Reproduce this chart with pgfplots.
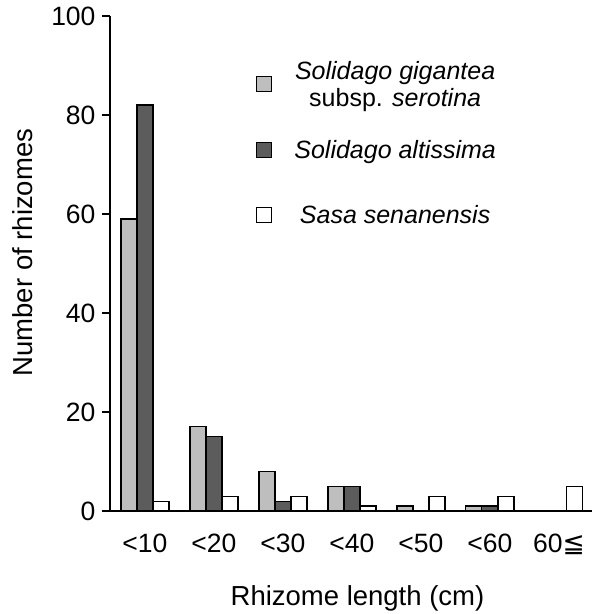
\documentclass[border=0pt]{standalone}
\usepackage{fontspec}
\setmainfont{Liberation Sans}
\newfontfamily\dejavu{DejaVu Sans}
\usepackage{pgfplots}
\pgfplotsset{compat=1.18}
\definecolor{lightbar}{RGB}{190,190,190}
\definecolor{darkbar}{RGB}{92,92,92}
\pgfplotsset{
  mybar/.style={ybar, bar width=0.232, draw=black, line width=1.2pt,
    legend image code/.code={\draw[##1, line width=1.2pt] (0pt,-7.5pt) rectangle (15pt,7.5pt);}},
}
\begin{document}
\begin{tikzpicture}
\begin{axis}[
  scale only axis, width=482pt, height=495pt,
  xmin=-0.507, xmax=6.48, ymin=0, ymax=100,
  axis x line=bottom, axis y line=left,
  axis line style={-, line width=1.4pt},
  ytick={0,20,40,60,80,100},
  tick align=outside,
  major tick length=8pt,
  ytick style={line width=1.2pt, black},
  xtick={0,1,2,3,4,5,6},
  xtick style={draw=none},
  xticklabels={{<10},{<20},{<30},{<40},{<50},{<60},{60{\dejavu ≦}}},
  /pgf/number format/assume math mode=true,
  tick label style={font=\fontsize{26.5}{30}\selectfont},
  yticklabel style={xshift=-3pt},
  xticklabel style={anchor=base, yshift=-33pt},
  xlabel={Rhizome length (cm)},
  xlabel style={at={(axis description cs:0.5135,-0.1899)}, anchor=base, font=\fontsize{27.5}{30}\selectfont},
  ylabel={Number of rhizomes},
  ylabel style={at={(axis description cs:-0.1618,0.522)}, anchor=base, font=\fontsize{27.5}{30}\selectfont},
  legend style={draw=none, fill=none, at={(axis description cs:0.3029,0.9288)}, anchor=north west,
    inner sep=0pt, row sep=0pt, column sep=22pt, font=\fontsize{25}{27}\selectfont,
    nodes={inner sep=0pt, minimum height=65.5pt, anchor=center, align=center}},
]
\addplot[mybar, bar shift=-0.232, fill=lightbar] coordinates {(0,59) (1,17) (2,8) (3,5) (4,1) (5,1)};
\addlegendentry{\textit{Solidago gigantea}\\subsp. \textit{serotina}}
\addplot[mybar, bar shift=0, fill=darkbar] coordinates {(0,82) (1,15) (2,2) (3,5) (5,1)};
\addlegendentry{\textit{Solidago altissima}}
\addplot[mybar, bar shift=0.232, fill=white] coordinates {(0,2) (1,3) (2,3) (3,1) (4,3) (5,3) (6,5)};
\addlegendentry{\textit{Sasa senanensis}}
\end{axis}
\pgfresetboundingbox
\path (current axis.south west) ++(-110pt,-103pt) rectangle ++(592pt,614pt);
\end{tikzpicture}
\end{document}
